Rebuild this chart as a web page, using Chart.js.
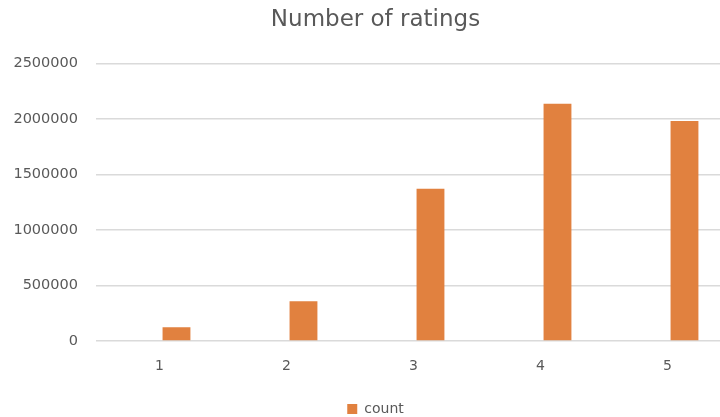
<!DOCTYPE html>
<html>
<head>
<meta charset="utf-8">
<title>Number of ratings</title>
<script src="https://cdn.jsdelivr.net/npm/chart.js@4"></script>
<style>
  html, body { margin: 0; padding: 0; background: #fff; overflow: hidden; }
  #wrap { width: 720px; height: 417px; overflow: hidden; }
</style>
</head>
<body>
<div id="wrap">
  <canvas id="ratingsChart" width="751" height="417"></canvas>
</div>
<script>
// Ratings histogram (star value -> number of ratings)
const ratingLabels = ["1", "2", "3", "4", "5"];
const ratingCounts = [124000, 359000, 1371000, 2139000, 1983000];
const yTicks = [0, 500000, 1000000, 1500000, 2000000, 2500000];

const textColor = "#595959";
const barColor = "#E1813F";
const fontFamily = "'DejaVu Sans', sans-serif";

const ctx = document.getElementById("ratingsChart").getContext("2d");

const ratingsChart = new Chart(ctx, {
    type: "bar",
    data: {
        labels: ratingLabels,
        datasets: [
            {
                // empty first series keeps the count bars in the right-hand slot
                label: "rating",
                data: [],
                backgroundColor: "rgba(0,0,0,0)"
            },
            {
                label: "count",
                data: ratingCounts,
                backgroundColor: barColor,
                borderWidth: 0
            }
        ]
    },
    options: {
        responsive: false,
        animation: false,
        categoryPercentage: 0.535,
        barPercentage: 0.82,
        layout: {
            padding: { left: 0, right: 0, top: 0, bottom: -9 }
        },
        scales: {
            x: {
                grid: { display: false, drawTicks: false },
                border: { display: false },
                ticks: {
                    color: textColor,
                    font: { family: fontFamily, size: 14 },
                    padding: 17
                },
                afterFit: (scale) => { scale.height = 44; }
            },
            y: {
                min: 0,
                max: 2500000,
                afterBuildTicks: (scale) => {
                    scale.ticks = yTicks.map(v => ({ value: v }));
                },
                grid: { color: "#DADADA", lineWidth: 1.5, drawTicks: false },
                border: { display: false },
                ticks: {
                    color: textColor,
                    font: { family: fontFamily, size: 14.5 },
                    padding: 18,
                    callback: (v) => String(v)
                },
                afterFit: (scale) => { scale.width = 96; }
            },
            // blank margin on the right of the plot
            yRight: {
                position: "right",
                grid: { display: false, drawTicks: false },
                border: { display: false },
                ticks: { display: false },
                afterFit: (scale) => { scale.width = 20; }
            }
        },
        plugins: {
            title: {
                display: true,
                text: "Number of ratings",
                color: textColor,
                font: { family: fontFamily, size: 23, weight: "normal" },
                padding: { top: 6, bottom: 30 }
            },
            legend: {
                position: "bottom",
                labels: {
                    color: textColor,
                    font: { family: fontFamily, size: 14 },
                    boxWidth: 10,
                    boxHeight: 10,
                    padding: 17,
                    filter: (item) => item.text === "count"
                }
            },
            tooltip: { enabled: false }
        }
    }
});
</script>
</body>
</html>
